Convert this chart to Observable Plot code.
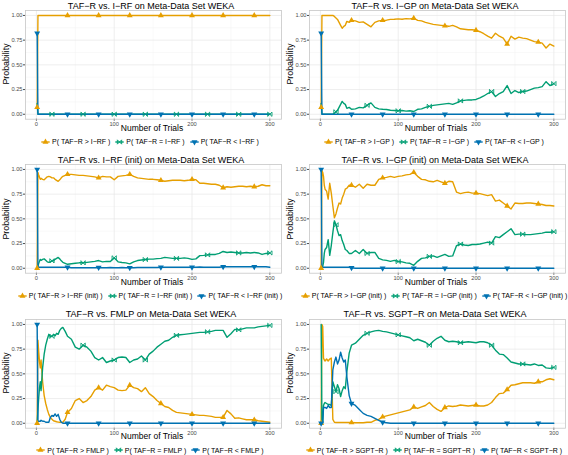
<!DOCTYPE html>
<html>
<head>
<meta charset="utf-8">
<script src="https://cdn.jsdelivr.net/npm/d3@7"></script>
<script src="https://cdn.jsdelivr.net/npm/@observablehq/plot@0.6"></script>
<style>
  html, body { margin: 0; padding: 0; background: #fff; }
  body { font-family: "Liberation Sans", Arial, sans-serif; }
  #root { position: relative; width: 568px; height: 455px; overflow: hidden; background: #fff; }
  .panel { position: absolute; width: 284px; height: 154px; }
  .panel svg.plot { position: absolute; left: 0; top: 0; overflow: visible; }
  .ptitle { position: absolute; left: 0; top: 1.6px; width: 302px; text-align: center; font-size: 9px; line-height: 9px; color: #000; white-space: nowrap; }
  .xlab { position: absolute; left: 0; top: 123.6px; width: 304px; text-align: center; font-size: 8.5px; line-height: 8.5px; color: #000; white-space: nowrap; }
  .ylab { position: absolute; left: 6.3px; top: 64.4px; font-size: 8.8px; line-height: 8.8px; color: #000; white-space: nowrap; transform: translate(-50%, -50%) rotate(-90deg); }
  .legend { position: absolute; left: 0; top: 137px; width: 300px; height: 9px; display: flex; justify-content: center; align-items: center; font-size: 7px; line-height: 9px; color: #000; white-space: nowrap; }
  .legend .item { display: inline-flex; align-items: center; margin: 0 2.5px; }
  .legend .item svg { margin-right: 2px; }
</style>
</head>
<body>
<div id="root"></div>
<script>
// ---------------- data ----------------
const panelTitles = [
  "TAF−R vs. I−RF on Meta-Data Set WEKA",
  "TAF−R vs. I−GP on Meta-Data Set WEKA",
  "TAF−R vs. I−RF (init) on Meta-Data Set WEKA",
  "TAF−R vs. I−GP (init) on Meta-Data Set WEKA",
  "TAF−R vs. FMLP on Meta-Data Set WEKA",
  "TAF−R vs. SGPT−R on Meta-Data Set WEKA"
];
const comparators = ["I−RF", "I−GP", "I−RF (init)", "I−GP (init)", "FMLP", "SGPT−R"];
const xTicks = [0, 100, 200, 300];
const yTicks = [0, 0.25, 0.5, 0.75, 1];
const xAxisTitle = "Number of Trials";
const yAxisTitle = "Probability";

// panel 1 (TAF-R vs I-RF)
const p1Trials  = [1,2,3,20,40,60,80,100,120,140,160,180,200,220,240,260,280,300];
const p1Greater = [0.07,1,1,1,1,1,1,1,1,1,1,1,1,1,1,1,1,1];
const p1Equal   = [0.11,0,0,0,0,0,0,0,0,0,0,0,0,0,0,0,0,0];
const p1Less    = [0.82,0,0,0,0,0,0,0,0,0,0,0,0,0,0,0,0,0];

// shared trial grid for panels 2-6
const trials = [1,2,3,4,5,6,8,10,12,14,16, 18,20,22,24,26,28,30,32,34,37,40,
  45,50,55,60,65,70,75,80,85,90, 95,100,105,110,115,120,125,130,135,140,
  145,150,155,160,165,170,175,180,185,190, 195,200,205,210,215,220,225,230,235,240,
  245,250,255,260,265,270,275,280,285,290, 295,300];

// panel 2 (I-GP)
const p2Greater = [.07,1,1,1,1,1,1,1,1,1,1, .99,.975,.96,.93,.9,.87,.89,.9,.94,.93,.95,
  .945,.93,.935,.91,.885,.93,.945,.95,.952,.96, .962,.965,.962,.968,.965,.972,.95,.945,.93,.92,
  .91,.905,.9,.895,.89,.9,.885,.865,.86,.855, .855,.85,.835,.815,.79,.77,.82,.79,.77,.71,
  .79,.76,.78,.77,.765,.75,.735,.73,.72,.67, .71,.69];
const p2Equal = [.11,0,0,0,0,0,0,0,0,0,0, .01,.025,.04,.07,.1,.13,.11,.1,.06,.07,.05,
  .055,.07,.065,.09,.115,.07,.055,.05,.048,.04, .038,.035,.038,.032,.035,.028,.05,.055,.07,.08,
  .09,.095,.1,.105,.11,.1,.115,.135,.14,.145, .145,.15,.165,.185,.21,.23,.18,.21,.23,.29,
  .21,.24,.22,.23,.235,.25,.265,.27,.28,.33, .29,.31];
const p2Less = [.82,0,0,0,0,0,0,0,0,0,0, 0,0,0,0,0,0,0,0,0,0,0,
  0,0,0,0,0,0,0,0,0,0, 0,0,0,0,0,0,0,0,0,0,
  0,0,0,0,0,0,0,0,0,0, 0,0,0,0,0,0,0,0,0,0,
  0,0,0,0,0,0,0,0,0,0, 0,0];

// panel 3 (I-RF init)
const p3Greater = [0,.97,.94,.92,.9,.91,.9,.895,.91,.925,.93, .925,.915,.915,.9,.89,.88,.895,.915,.93,.94,.95,
  .95,.945,.94,.94,.935,.93,.925,.915,.93,.925, .925,.895,.93,.935,.94,.95,.93,.915,.91,.905,
  .9,.9,.895,.89,.88,.885,.89,.89,.89,.885, .89,.9,.895,.86,.86,.855,.85,.85,.84,.815,
  .825,.82,.825,.83,.83,.825,.83,.825,.83,.845, .835,.835];
const p3Equal = [0,.02,.05,.07,.09,.08,.09,.095,.08,.065,.06, .065,.075,.075,.09,.1,.11,.095,.075,.06,.05,.04,
  .045,.05,.055,.055,.06,.065,.07,.078,.065,.07, .068,.105,.065,.058,.055,.045,.065,.078,.083,.088,
  .092,.092,.097,.1,.11,.105,.1,.1,.1,.105, .1,.09,.095,.128,.13,.135,.14,.14,.15,.17,
  .16,.165,.16,.155,.155,.16,.155,.16,.155,.14, .15,.155];
const p3Less = [1,.01,.01,.01,.01,.01,.01,.01,.01,.01,.01, .01,.01,.01,.01,.01,.01,.01,.01,.01,.01,.01,
  .005,.005,.005,.005,.005,.005,.005,.007,.005,.005, .007,.005,.005,.007,.005,.005,.005,.007,.007,.007,
  .008,.008,.008,.01,.01,.01,.01,.01,.01,.01, .01,.01,.01,.012,.01,.01,.01,.01,.01,.015,
  .015,.015,.015,.015,.015,.015,.015,.015,.015,.015, .015,.01];

// panel 4 (I-GP init)
const p4Greater = [0,.99,.97,.93,.84,.8,.78,.7,.86,.76,.63, .51,.55,.61,.66,.65,.71,.75,.8,.81,.84,.84,
  .82,.85,.81,.85,.84,.84,.9,.915,.92,.93, .92,.93,.935,.945,.95,.97,.93,.9,.895,.88,
  .875,.89,.875,.86,.88,.875,.77,.755,.765,.77, .76,.76,.755,.745,.735,.745,.68,.69,.66,.63,
  .6,.66,.655,.655,.66,.66,.655,.65,.645,.635, .635,.63];
const p4Equal = [0,0,.02,.06,.15,.19,.21,.29,.13,.23,.36, .48,.44,.38,.33,.34,.28,.24,.19,.18,.15,.15,
  .18,.15,.19,.15,.16,.16,.1,.085,.08,.07, .08,.068,.065,.055,.05,.03,.07,.1,.105,.12,
  .125,.11,.125,.14,.12,.125,.23,.245,.235,.23, .24,.24,.245,.255,.265,.255,.32,.31,.34,.37,
  .4,.34,.345,.345,.34,.34,.345,.35,.355,.365, .365,.37];
const p4Less = [1,.01,.01,.01,.01,.01,.01,.01,.01,.01,.01, .01,.01,.01,.01,.01,.01,.01,.01,.01,.01,.005,
  0,0,0,0,0,0,0,0,0,0, 0,0,0,0,0,0,0,0,0,0,
  0,0,0,0,0,0,0,0,0,0, 0,0,0,0,0,0,0,0,0,0,
  0,0,0,0,0,0,0,0,0,0, 0,0];

// panel 5 (FMLP)
const p5Greater = [0,.84,.72,.62,.56,.64,.42,.28,.2,.14,.09, .06,.04,.025,.02,.015,.012,.01,.01,.01,.04,.11,
  .15,.23,.25,.21,.23,.27,.335,.36,.335,.385, .37,.36,.335,.33,.335,.385,.36,.35,.32,.36,
  .3,.27,.23,.2,.17,.16,.13,.11,.105,.1, .095,.09,.085,.08,.08,.075,.07,.06,.06,.06,
  .13,.095,.05,.055,.045,.035,.035,.035,.025,.02, .015,.01];
const p5Equal = [0,.14,.26,.36,.42,.33,.56,.7,.79,.85,.9, .88,.88,.9,.885,.91,.9,.94,.96,.97,.93,.88,
  .85,.77,.75,.79,.77,.73,.665,.64,.665,.615, .63,.64,.665,.67,.665,.615,.64,.65,.68,.64,
  .7,.73,.77,.8,.83,.84,.87,.89,.895,.9, .905,.91,.915,.92,.92,.925,.93,.94,.94,.94,
  .87,.905,.95,.945,.955,.965,.965,.965,.975,.98, .985,.99];
const p5Less = [1,.02,.02,.02,.02,.03,.02,.02,.01,.01,.01, .06,.08,.07,.095,.07,.09,.04,.01,0,0,0,
  0,0,0,0,0,0,0,0,0,0, 0,0,0,0,0,0,0,0,0,0,
  0,0,0,0,0,0,0,0,0,0, 0,0,0,0,0,0,0,0,0,0,
  0,0,0,0,0,0,0,0,0,0, 0,0];

// panel 6 (SGPT-R)
const p6Greater = [0,1,.98,.66,.64,.63,.65,.63,.65,.66,.04, .01,.008,.008,.007,.007,.007,.007,.007,.007,.007,.007,
  .005,.005,.005,.01,.01,.03,.04,.065,.075,.085, .095,.105,.115,.125,.135,.165,.15,.165,.18,.21,
  .17,.14,.12,.16,.175,.17,.175,.185,.18,.175, .18,.185,.175,.175,.185,.21,.26,.3,.305,.34,
  .385,.39,.4,.41,.41,.41,.405,.42,.42,.44, .45,.44];
const p6Equal = [1,0,0,.18,.2,.21,.2,.19,.19,.18,.42, .37,.32,.39,.35,.27,.33,.37,.35,.52,.71,.79,
  .81,.85,.89,.91,.925,.935,.94,.93,.925,.915, .905,.895,.885,.875,.865,.835,.85,.835,.82,.79,
  .83,.86,.88,.84,.825,.83,.825,.815,.82,.825, .82,.815,.825,.825,.815,.79,.74,.7,.695,.66,
  .62,.61,.6,.6,.595,.59,.6,.585,.59,.56, .555,.565];
const p6Less = [0,0,.02,.16,.16,.16,.15,.18,.16,.16,.54, .62,.67,.6,.64,.72,.66,.62,.64,.47,.28,.2,
  .18,.14,.1,.08,.07,.05,.03,.01,.005,0, 0,0,0,0,0,0,0,0,0,0,
  0,0,0,0,0,0,0,0,0,0, 0,0,0,0,0,0,0,0,0,0,
  0,0,0,0,0,0,0,0,0,0, 0,0];

const seriesColors = { greater: "#E69F00", equal: "#009E73", less: "#0072B2" };

// ---------------- assembly ----------------
const panelData = [
  [p1Trials, p1Greater, p1Equal, p1Less],
  [trials, p2Greater, p2Equal, p2Less],
  [trials, p3Greater, p3Equal, p3Less],
  [trials, p4Greater, p4Equal, p4Less],
  [trials, p5Greater, p5Equal, p5Less],
  [trials, p6Greater, p6Equal, p6Less]
];
panelData.forEach((d, i) => d.slice(1).forEach((a, k) => {
  if (a.length !== d[0].length) throw new Error(`panel ${i + 1} series ${k} length ${a.length} vs ${d[0].length}`);
}));

// custom symbols
const sqrt3 = Math.sqrt(3);
const triangleDown = {
  draw(ctx, size) {
    const y = -Math.sqrt(size / (sqrt3 * 3));
    ctx.moveTo(0, -y * 2);
    ctx.lineTo(-sqrt3 * y, y);
    ctx.lineTo(sqrt3 * y, y);
    ctx.closePath();
  }
};
const squareCross = {
  draw(ctx, size) {
    const s = Math.sqrt(size) * 0.55;
    ctx.moveTo(-s, -s); ctx.lineTo(s, s);
    ctx.moveTo(-s, s); ctx.lineTo(s, -s);
    ctx.moveTo(-s, -s); ctx.lineTo(-s, s);
    ctx.moveTo(s, -s); ctx.lineTo(s, s);
  }
};

const markA = r => r.t === 1 || r.t % 40 === 0 && r.t < 300;
const markB = r => r.t % 40 === 20;

const root = document.getElementById("root");
const rowTops = [0, 154.3, 308.6];
const R = 2.2;

panelData.forEach(([xs, gt, eq, lt], i) => {
  const col = i % 2, row = Math.floor(i / 2);
  const div = document.createElement("div");
  div.className = "panel";
  div.style.left = (col * 284) + "px";
  div.style.top = rowTops[row] + "px";
  root.appendChild(div);

  const rows = vals => xs.map((t, j) => ({ t, v: vals[j] }));
  const G = rows(gt), E = rows(eq), L = rows(lt);

  const svg = Plot.plot({
    width: 284, height: 130,
    marginLeft: 25, marginRight: 3, marginTop: 10, marginBottom: 11.3,
    x: { domain: [-14, 315] },
    y: { domain: [-0.05, 1.05] },
    style: { background: "transparent", fontFamily: "'Liberation Sans', Arial, sans-serif", overflow: "visible" },
    marks: [
      Plot.gridX([50, 150, 250], { stroke: "#f2f2f2", strokeOpacity: 1, strokeWidth: 0.5 }),
      Plot.gridY([0.125, 0.375, 0.625, 0.875], { stroke: "#f2f2f2", strokeOpacity: 1, strokeWidth: 0.5 }),
      Plot.gridX(xTicks, { stroke: "#e6e6e6", strokeOpacity: 1, strokeWidth: 0.7 }),
      Plot.gridY(yTicks, { stroke: "#e6e6e6", strokeOpacity: 1, strokeWidth: 0.7 }),
      Plot.axisX(xTicks, { tickSize: 2, tickPadding: 1, fontSize: 5.7, label: null, color: "#4d4d4d" }),
      Plot.axisY(yTicks, { tickSize: 2, tickPadding: 1, fontSize: 5.7, label: null, color: "#4d4d4d", tickFormat: d3.format(".2f") }),
      Plot.line(G, { x: "t", y: "v", stroke: seriesColors.greater, strokeWidth: 1.4 }),
      Plot.line(E, { x: "t", y: "v", stroke: seriesColors.equal, strokeWidth: 1.4 }),
      Plot.line(L, { x: "t", y: "v", stroke: seriesColors.less, strokeWidth: 1.4 }),
      Plot.dot(G.filter(markA), { x: "t", y: "v", symbol: "triangle", fill: seriesColors.greater, stroke: "none", r: R }),
      Plot.dot(E.filter(markB), { x: "t", y: "v", symbol: squareCross, fill: "none", stroke: seriesColors.equal, strokeWidth: 0.9, r: R }),
      Plot.dot(L.filter(markA), { x: "t", y: "v", symbol: triangleDown, fill: seriesColors.less, stroke: "none", r: R }),
      Plot.frame({ stroke: "#c6c6c6", strokeWidth: 0.8 })
    ]
  });
  svg.classList.add("plot");
  div.appendChild(svg);

  const title = document.createElement("div");
  title.className = "ptitle";
  title.textContent = panelTitles[i];
  div.appendChild(title);

  const xl = document.createElement("div");
  xl.className = "xlab";
  xl.textContent = xAxisTitle;
  div.appendChild(xl);

  const yl = document.createElement("div");
  yl.className = "ylab";
  yl.textContent = yAxisTitle;
  div.appendChild(yl);

  const leg = document.createElement("div");
  leg.className = "legend";
  const size = Math.PI * R * R;
  const items = [
    [">", seriesColors.greater, d3.symbol(d3.symbolTriangle, size)(), true],
    ["=", seriesColors.equal, d3.symbol(squareCross, size)(), false],
    ["<", seriesColors.less, d3.symbol(triangleDown, size)(), true]
  ];
  items.forEach(([op, c, path, filled]) => {
    const it = document.createElement("span");
    it.className = "item";
    it.innerHTML = `<svg width="9" height="8" viewBox="0 0 9 8"><line x1="0.3" x2="8.7" y1="4" y2="4" stroke="${c}" stroke-width="1.4"/>` +
      `<path transform="translate(4.5,4)" d="${path}" fill="${filled ? c : "none"}" stroke="${filled ? "none" : c}" stroke-width="0.9"/></svg>`;
    const s = document.createElement("span");
    s.textContent = `P( TAF−R ${op} ${comparators[i]} )`;
    it.appendChild(s);
    leg.appendChild(it);
  });
  div.appendChild(leg);
});
</script>
</body>
</html>
